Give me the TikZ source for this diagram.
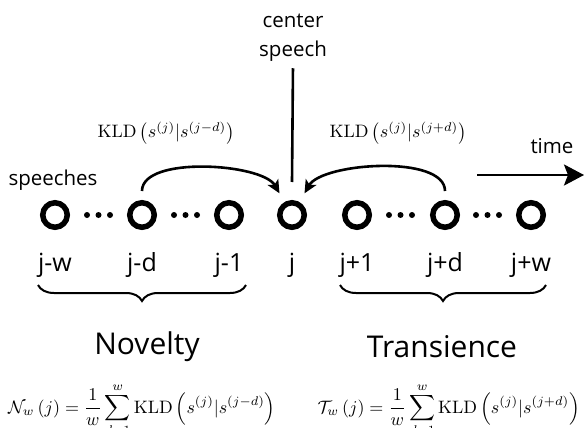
\documentclass[tikz,border=0pt]{standalone}
\usepackage{amsmath}
\usepackage{fontspec}
\setsansfont{Open Sans}
\usetikzlibrary{decorations.pathreplacing, arrows.meta}

\newcommand{\eqbox}[1]{\scalebox{1.8}{$#1$}}

\begin{document}
\begin{tikzpicture}[x=1pt, y=-1pt, font=\sffamily,
    spk/.style={circle, draw, line width=5.5pt, minimum size=24.5pt, inner sep=0pt},
    lab/.style={font=\sffamily\fontsize{25}{28}\selectfont},
    small/.style={font=\sffamily\fontsize{20.5}{23}\selectfont},
    big/.style={font=\sffamily\fontsize{30}{34}\selectfont},
    eq/.style={inner sep=0pt},
    kld/.style={-{Stealth[length=13pt, width=12pt, inset=3pt]}, line width=2.6pt,
      shorten <=9pt, shorten >=10pt},
    brc/.style={decorate, decoration={brace, mirror, amplitude=16pt}, line width=2pt}]
    \useasboundingbox (0,0) rectangle (584,428);

    % speeches
    \node[spk] (jw) at (55,215) {};
    \node[spk] (jd) at (142,215) {};
    \node[spk] (j1) at (229,215) {};
    \node[spk] (j) at (292,215) {};
    \node[spk] (jp1) at (357,215) {};
    \node[spk] (jpd) at (445,215) {};
    \node[spk] (jpw) at (531,215) {};
    \fill (87,215) circle (3pt) (98.5,215) circle (3pt) (110,215) circle (3pt);
    \fill (174,215) circle (3pt) (185.5,215) circle (3pt) (197,215) circle (3pt);
    \fill (389,215) circle (3pt) (400.5,215) circle (3pt) (412,215) circle (3pt);
    \fill (476,215) circle (3pt) (487.5,215) circle (3pt) (499,215) circle (3pt);

    \node[lab] (ljw) at (55,265) {j-w};
    \node[lab] (ljd) at (142,265) {j-d};
    \node[lab] (lj1) at (229,265) {j-1};
    \node[lab] (lj) at (292,265) {j};
    \node[lab] (ljp1) at (357,265) {j+1};
    \node[lab] (ljpd) at (445,265) {j+d};
    \node[lab] (ljpw) at (531,265) {j+w};

    \node[small] (sp) at (53,180) {speeches};
    \node[small, align=center] (cs) at (293,38) {center\\[6pt]speech};
    \coordinate (csend) at (292,182);
    \draw[line width=2.6pt, shorten <=3pt] (cs.south) -- (csend);

    \node[small] (time) at (552,146) {time};
    \coordinate (t0) at (477,175);
    \coordinate (t1) at (584,175);
    \draw[-{Stealth[length=20pt, width=21pt, inset=4pt]}, line width=2.8pt] (t0) -- (t1);

    % KLD arrows
    \node[eq] (kl) at (166,133) {\eqbox{\mathrm{KLD}\left(s^{(j)}|s^{(j-d)}\right)}};
    \node[eq] (kr) at (398,133) {\eqbox{\mathrm{KLD}\left(s^{(j)}|s^{(j+d)}\right)}};
    \draw[kld] (jd) to[out=90, in=120, looseness=0.8] (j);
    \draw[kld] (jpd) to[out=90, in=60, looseness=0.8] (j);

    % braces
    \coordinate (bl0) at (38,285);
    \coordinate (bl1) at (246,285);
    \coordinate (br0) at (340,285);
    \coordinate (br1) at (546,285);
    \draw[brc] (bl0) -- (bl1);
    \draw[brc] (br0) -- (br1);

    \node[big] (nov) at (147,347) {Novelty};
    \node[big] (tra) at (442,347) {Transience};

    \node[eq, anchor=base west] (nf) at (8,413)
      {\eqbox{\mathcal{N}_w\left(j\right)=\dfrac{1}{w}\displaystyle\sum_{d=1}^{w}\mathrm{KLD}\left(s^{(j)}|s^{(j-d)}\right)}};
    \node[eq, anchor=base east] (tf) at (580,413)
      {\eqbox{\mathcal{T}_w\left(j\right)=\dfrac{1}{w}\displaystyle\sum_{d=1}^{w}\mathrm{KLD}\left(s^{(j)}|s^{(j+d)}\right)}};
\end{tikzpicture}
\end{document}
